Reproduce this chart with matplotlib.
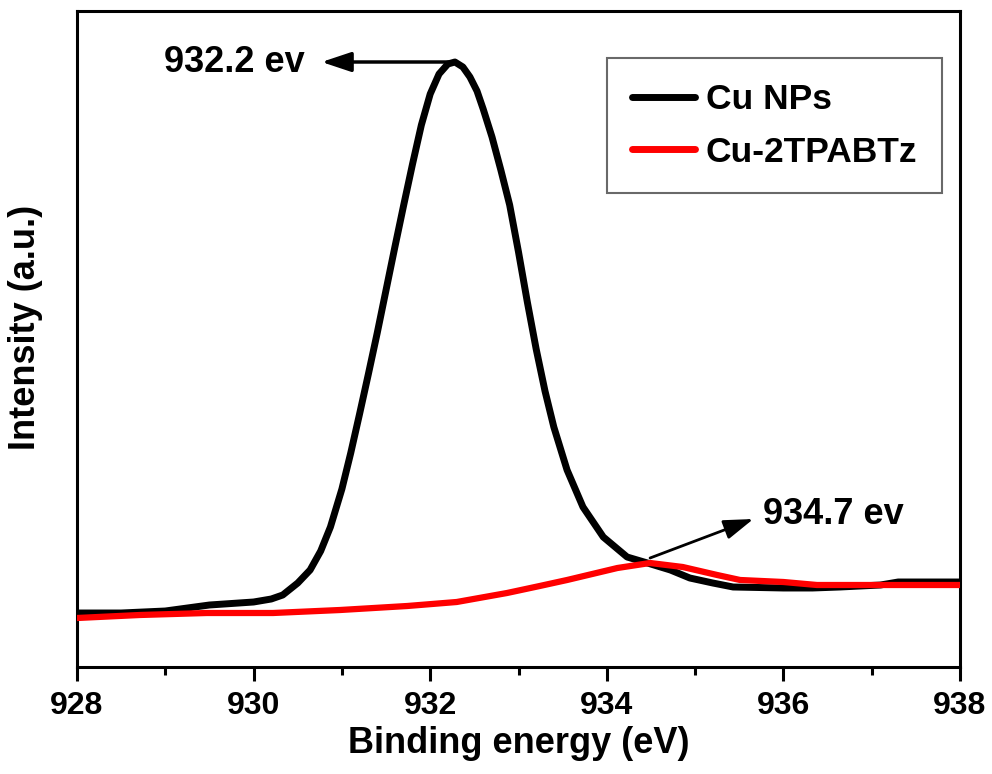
import matplotlib.pyplot as plt
from matplotlib.ticker import MultipleLocator

# ------ data (binding energy in eV, intensity in a.u.) ------
cu_nps_energy = [928.0, 928.5, 929.0, 929.5, 930.0, 930.2, 930.33, 930.5, 930.64, 930.76,
                 930.87, 931.0, 931.1, 931.2, 931.3, 931.4, 931.5, 931.6, 931.7, 931.8,
                 931.9, 932.0, 932.1, 932.2, 932.28, 932.37, 932.45, 932.53, 932.6, 932.7,
                 932.8, 932.9, 933.0, 933.1, 933.2, 933.3, 933.4, 933.55, 933.73, 933.96,
                 934.23, 934.46, 934.72, 934.94, 935.2, 935.43, 936.0, 936.33, 936.64,
                 937.1, 937.3, 938.0]
cu_nps_intensity = [54, 54, 56, 62, 65, 68, 72, 84, 97, 116,
                    140, 178, 214, 253, 293, 334, 377, 420, 462, 503,
                    542, 573, 593, 603, 605, 600, 590, 576, 558, 530,
                    497, 462, 415, 365, 318, 276, 240, 197, 160, 130,
                    110, 104, 97, 89, 84, 80, 79, 79, 80,
                    82, 85, 85]

cu_tpabtz_energy = [928.0, 928.71, 929.47, 930.22, 930.98, 931.74, 932.3, 932.87, 933.24,
                    933.55, 934.12, 934.49, 934.86, 935.25, 935.51, 936.0, 936.38, 938.0]
cu_tpabtz_intensity = [49, 52, 54, 54, 57, 61, 65, 74, 81,
                       87, 99, 104, 100, 92, 87, 85, 82, 82]

x_ticks = [928, 930, 932, 934, 936, 938]

plt.rcParams['font.family'] = ['Liberation Sans', 'DejaVu Sans']
plt.rcParams['font.weight'] = 'bold'

fig = plt.figure(figsize=(9.92, 7.74), dpi=100)
ax = fig.add_axes([77 / 992, 1 - 667 / 774, 883 / 992, 656 / 774])

ax.plot(cu_nps_energy, cu_nps_intensity, color='black', lw=5, label='Cu NPs',
        solid_capstyle='round', solid_joinstyle='round', zorder=2)
ax.plot(cu_tpabtz_energy, cu_tpabtz_intensity, color='red', lw=4.5, label='Cu-2TPABTz',
        solid_capstyle='round', solid_joinstyle='round', zorder=3)

ax.set_xlim(928, 938)
ax.set_ylim(0, 656)
ax.set_xticks(x_ticks)
ax.xaxis.set_minor_locator(MultipleLocator(1))
ax.set_yticks([])

for s in ax.spines.values():
    s.set_linewidth(2.2)
ax.tick_params(axis='x', which='major', direction='out', length=10, width=2.2,
               labelsize=23, pad=7)
ax.tick_params(axis='x', which='minor', direction='out', length=6, width=2.2)

ax.set_xlabel('Binding energy (eV)', fontsize=26, fontweight='bold', labelpad=4)
ax.set_ylabel('Intensity (a.u.)', fontsize=26, fontweight='bold')
ax.yaxis.set_label_coords(-0.039, 0.517)

# peak markers
ax.annotate('', xy=(930.77, 605), xytext=(932.28, 605),
            arrowprops=dict(arrowstyle='-|>,head_length=0.9,head_width=0.3',
                            color='black', lw=2.5, mutation_scale=20,
                            shrinkA=0, shrinkB=0))
ax.text(930.58, 605, '932.2 ev', fontsize=26, fontweight='bold', ha='right', va='center')

ax.annotate('', xy=(935.66, 148), xytext=(934.49, 109),
            arrowprops=dict(arrowstyle='-|>,head_length=0.9,head_width=0.3',
                            color='black', lw=2, mutation_scale=20,
                            shrinkA=0, shrinkB=0))
ax.text(935.77, 152, '934.7 ev', fontsize=26, fontweight='bold', ha='left', va='center')

leg = ax.legend(loc='upper left', bbox_to_anchor=(0.600, 0.928), fontsize=25.5,
                frameon=True, fancybox=False, borderaxespad=0, handlelength=1.8,
                handletextpad=0.3, labelspacing=0.55, borderpad=0.7)
leg.get_frame().set_edgecolor('#444444')
leg.get_frame().set_linewidth(1.5)
for line in leg.get_lines():
    line.set_linewidth(5)

fig.savefig('out.png', dpi=100)
